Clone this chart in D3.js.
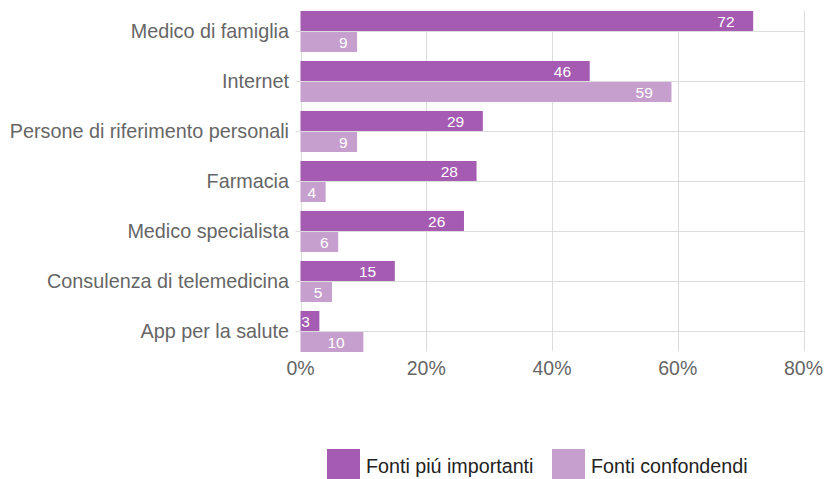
<!DOCTYPE html>
<html>
<head>
<meta charset="utf-8">
<script src="https://cdn.jsdelivr.net/npm/d3@7"></script>
<style>
  html, body { margin: 0; padding: 0; background: #fff; }
  svg { display: block; font-family: "Liberation Sans", Arial, Helvetica, sans-serif; }
</style>
</head>
<body>
<svg id="chart" width="825" height="479"></svg>
<script>
const categories = [
  "Medico di famiglia",
  "Internet",
  "Persone di riferimento personali",
  "Farmacia",
  "Medico specialista",
  "Consulenza di telemedicina",
  "App per la salute"
];
const seriesNames = ["Fonti piú importanti", "Fonti confondendi"];
const importanti = [72, 46, 29, 28, 26, 15, 3];
const confondendi = [9, 59, 9, 4, 6, 5, 10];
const xTicks = [0, 20, 40, 60, 80];
const colors = ["#a55bb2", "#c69fce"];

(function () {
const svg = d3.select("#chart");
const plotLeft = 300.5, plotRight = 803.5, plotTop = 11, plotBottom = 351;

const x = d3.scaleLinear().domain([0, 80]).range([plotLeft, plotRight]);
const y = d3.scaleBand().domain(categories).range([plotTop, plotBottom]).paddingInner(0.2).paddingOuter(0);
const ySub = d3.scaleBand().domain(seriesNames).range([0, y.bandwidth() + 1]).paddingInner(0.05);

const grid = svg.append("g");
grid.selectAll("line.v").data(xTicks).join("line")
  .attr("x1", d => Math.round(x(d)) + 0.5).attr("x2", d => Math.round(x(d)) + 0.5)
  .attr("y1", plotTop).attr("y2", plotBottom)
  .attr("stroke", "#dcdcdc").attr("stroke-width", 1);
grid.selectAll("line.h").data(categories).join("line")
  .attr("x1", plotLeft - 5).attr("x2", plotRight + 0.5)
  .attr("y1", d => Math.round(y(d) + y.bandwidth() / 2) + 0.5)
  .attr("y2", d => Math.round(y(d) + y.bandwidth() / 2) + 0.5)
  .attr("stroke", "#dcdcdc").attr("stroke-width", 1);

const rows = categories.map((c, i) => ({ cat: c, vals: [importanti[i], confondendi[i]] }));

const rowG = svg.append("g").selectAll("g").data(rows).join("g")
  .attr("transform", d => `translate(0,${y(d.cat)})`);

rowG.selectAll("rect").data(d => d.vals.map((v, j) => ({ v, s: seriesNames[j], j }))).join("rect")
  .attr("x", x(0))
  .attr("y", d => ySub(d.s))
  .attr("width", d => x(d.v) - x(0))
  .attr("height", ySub.bandwidth())
  .attr("fill", d => colors[d.j]);

rowG.selectAll("text.val").data(d => d.vals.map((v, j) => ({ v, s: seriesNames[j], j }))).join("text")
  .attr("class", "val")
  .attr("y", d => ySub(d.s) + ySub.bandwidth() / 2)
  .attr("dy", "0.36em")
  .attr("text-anchor", "end")
  .attr("fill", "#fff")
  .style("font-size", "15.5px")
  .text(d => d.v)
  .each(function (d) {
    const w = this.getComputedTextLength();
    d3.select(this).attr("x", x(d.v) - w * 1.05 - 0.5);
  });

svg.append("g").selectAll("text").data(categories).join("text")
  .attr("x", 289)
  .attr("y", d => y(d) + y.bandwidth() / 2)
  .attr("dy", "0.36em")
  .attr("text-anchor", "end")
  .attr("fill", "#666")
  .style("font-size", "19.8px")
  .text(d => d);

svg.append("g").selectAll("text").data(xTicks).join("text")
  .attr("x", d => x(d))
  .attr("y", 375)
  .attr("text-anchor", "middle")
  .attr("fill", "#666")
  .style("font-size", "19.5px")
  .text(d => d + "%");

const legendX = [327, 552];
const lg = svg.append("g").selectAll("g").data(seriesNames).join("g")
  .attr("transform", (d, i) => `translate(${legendX[i]},449)`);
lg.append("rect").attr("width", 33).attr("height", 30).attr("fill", (d, i) => colors[i]);
lg.append("text").attr("x", 39).attr("y", 24)
  .attr("fill", "#222").style("font-size", "19.7px").text(d => d);
})();
</script>
</body>
</html>
